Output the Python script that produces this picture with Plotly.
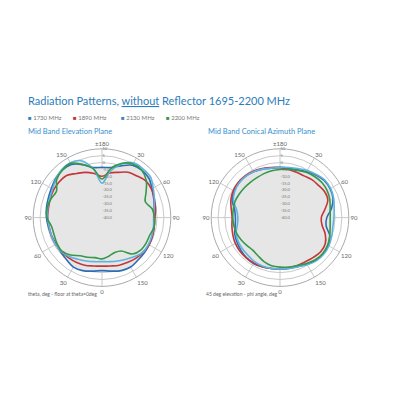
import plotly.graph_objects as go

# screen angle, degrees clockwise from the top spoke
angles = list(range(0, 360, 10))
angle_ticks = list(range(0, 360, 30))
angle_labels = ["±180", "30", "60", "90", "120", "150", "0", "30", "60", "90", "120", "150"]
r_ticks = [-40, -35, -30, -25, -20, -15, -10, -5, 0, 5, 10]
r_labels = ["-40.0", "-35.0", "-30.0", "-25.0", "-20.0", "-15.0", "-10.0", "-5.0", "0", "5", "10"]

names = ["1730 MHz", "1890 MHz", "2130 MHz", "2200 MHz"]
line_colors = ["#2f6db3", "#c3363a", "#5fb3df", "#36984a"]
legend_colors = ["#3a7fc0", "#c3363a", "#3a86c4", "#36984a"]

# elevation plane, dB
elev_1730 = [-3.5, -3, 0, 4, 5, 4.5, 2, 0, -1.5, -2, -1.5, -1, -0.5, 0, 0.5, 1.5, 1, -0.5,
             -1.5, -0.5, 1, 1.5, 0, -1, -1.5, -1, -0.5, 0.4, 1, 1.5, 2.5, 4, 5, 4.5, 1, -3]
elev_1890 = [-10, -7, -5, -2, -0.5, 1.5, 1.5, 0.5, -0.5, -1.5, -1.5, -1, -0.5, -1, -1.5, -2.5, -3.2, -4.3,
             -4.7, -4.3, -3.2, -2.5, -2, -1.5, -1, -1, -1, -0.5, -0.5, 0, 0.5, 0.5, 0, -3, -5, -7.5]
elev_2130 = [-15, -6, 1.5, 6, 6.3, 6, 3, 0.5, -1.5, -2.5, -2, -1.5, -1, -1, -3, -5, -6.5, -7.5,
             -8, -7.5, -6.5, -5, -3, -1.5, -1, -1, -1, -0.5, 0, 0.5, 1.5, 3.5, 5.5, 6, 4, -4]
elev_2200 = [-12, -4, 2, 5, 5, 2, -3, -6.5, -3, -2, -1.5, -3, -3, -3.3, -5.5, -12, -13, -11.5,
             -10, -10.5, -9.3, -8, -4.5, -2, -2.3, -3, -2.8, 0, 0.5, -0.5, -1.8, 3, 5, 5.5, 1, -4]

# conical azimuth plane, dB
azim_1730 = [-3.5, -3.5, -3, -1.5, 0.5, 2, 2, 1, -2, -6, -6, -1.5, 0.5, 1, 0.5, -1, -2, -2.5,
             -2.7, -2.5, -2, -1.5, -2, -3, -4, -5, -7, -7.6, -6.5, -3, -1.5, -1, -1, -1.5, -2.5, -3.5]
azim_1890 = [-3.7, -4.5, -5, -5, -4, -3.5, -2.5, -3, -7, -10, -9, -5, -2, -1.4, -2.3, -3, -3, -2.8,
             -2.7, -2.5, -2, -1.9, -1.8, -2, -2.5, -3.5, -4.5, -5.2, -4, -2, -0.8, -0.3, -0.5, -1, -2, -3]
azim_2130 = [-3.5, -3, -2, -0.5, 1, 2.5, 2.5, 1.5, 0, -0.8, -1, 0, 1, 1.5, 1, -0.5, -2, -2.5,
             -2.7, -2.5, -2.5, -3, -4, -4.5, -5, -6, -8.5, -9.4, -8, -4, -2, -1, -1, -1.5, -2.5, -3.5]
azim_2200 = [-5, -4.5, -3.5, -2, -1, -0.3, -0.5, -1.5, -3, -3.5, -3, -1.5, 0, 0.5, 0, -1.5, -3, -3.5,
             -4, -4.5, -6, -8, -9.1, -8.5, -7.5, -6.5, -6, -5.7, -5.5, -5.3, -5.8, -6.2, -6.5, -6.5, -6, -5.5]

elev = [elev_1730, elev_1890, elev_2130, elev_2200]
azim = [azim_1730, azim_1890, azim_2130, azim_2200]


def closed(vals):
    return list(vals) + [vals[0]]


fig = go.Figure()

for sub, series in (("polar", elev), ("polar2", azim)):
    envelope = [max(v) for v in zip(*series)]
    fig.add_trace(go.Scatterpolar(
        r=closed(envelope), theta=closed(angles), subplot=sub, mode="lines",
        line=dict(width=0, shape="spline"), fill="toself", fillcolor="#e6e6e6",
        showlegend=False, hoverinfo="skip"))
    for i in [0, 1, 2, 3]:
        fig.add_trace(go.Scatterpolar(
            r=closed(series[i]), theta=closed(angles), subplot=sub, mode="lines",
            name=names[i], line=dict(color=line_colors[i], width=1.6, shape="spline"),
            showlegend=False))

polar_style = dict(
    bgcolor="white",
    angularaxis=dict(rotation=90, direction="clockwise", tickmode="array",
                     tickvals=angle_ticks, ticktext=angle_labels,
                     tickfont=dict(size=6, color="#666", family="Lato"),
                     showgrid=True, gridcolor="#c9c9c9", gridwidth=0.6,
                     linecolor="#aaaaaa", linewidth=1, ticks=""),
    radialaxis=dict(range=[-40, 10], tickmode="array", tickvals=r_ticks, ticktext=r_labels,
                    angle=90, tickangle=90, tickfont=dict(size=4, color="#777", family="Lato"),
                    showgrid=True, gridcolor="#c9c9c9", gridwidth=0.6,
                    showline=False, ticks=""),
)

fig.update_layout(
    width=400, height=400, margin=dict(l=0, r=0, t=0, b=0),
    paper_bgcolor="white", plot_bgcolor="white",
    polar=dict(domain=dict(x=[0.083, 0.427], y=[0.284, 0.628]), **polar_style),
    polar2=dict(domain=dict(x=[0.528, 0.872], y=[0.284, 0.628]), **polar_style),
)

annotations = [
    dict(text="Radiation Patterns, <u>without</u> Reflector 1695-2200 MHz", x=26, y=101,
         font=dict(size=11, color="#2b7cba", family="Lato")),
    dict(text="Mid Band Elevation Plane", x=26, y=131, font=dict(size=7.5, color="#3a8fcd", family="Lato")),
    dict(text="Mid Band Conical Azimuth Plane", x=206, y=131, font=dict(size=7.5, color="#3a8fcd", family="Lato")),
    dict(text="theta, deg - floor at theta=0deg", x=26, y=294, font=dict(size=5, color="#666", family="Lato")),
    dict(text="45 deg elevation - phi angle, deg", x=204, y=294, font=dict(size=5, color="#666", family="Lato")),
]
legend_x = [26, 71, 119, 164]
for i in range(4):
    annotations.append(dict(
        text="<span style='color:%s'>■</span> %s" % (legend_colors[i], names[i]),
        x=legend_x[i], y=117, font=dict(size=6, color="#777", family="Lato")))

for a in annotations:
    fig.add_annotation(text=a["text"], x=a["x"] / 400, y=1 - a["y"] / 400, xref="paper", yref="paper",
                       xanchor="left", yanchor="middle", showarrow=False, font=a["font"])

fig.write_html("out.html", config={"displayModeBar": False},
               post_script="document.body.style.margin='0';")
